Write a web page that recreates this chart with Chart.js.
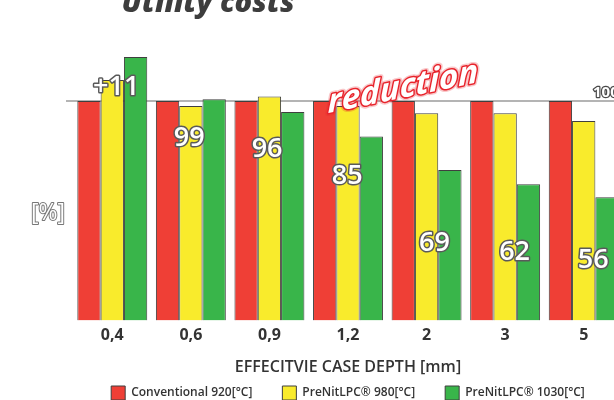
<!DOCTYPE html>
<html>
<head>
<meta charset="utf-8">
<script src="https://cdn.jsdelivr.net/npm/chart.js@4"></script>
<style>
  html, body { margin: 0; padding: 0; background: #fff; overflow: hidden; }
  #wrap { position: relative; width: 630px; height: 410px; }
</style>
</head>
<body>
<div id="wrap"><canvas id="myChart" width="630" height="410"></canvas></div>
<script>
// case depth categories
const depths = ["0,4", "0,6", "0,9", "1,2", "2", "3", "5"];
// utility costs in % (conventional = 100)
const conventional920 = [100, 100, 100, 100, 100, 100, 100];
const preNit980 = [109.5, 97.7, 102, 97.7, 94.4, 94.4, 90.9];
const preNit1030 = [120, 100.8, 94.9, 83.8, 68.6, 62.1, 56.2];
const seriesNames = ["Conventional 920[°C]", "PreNitLPC® 980[°C]", "PreNitLPC® 1030[°C]"];

// numbers written over the bars, placed in axis units (category index, %)
const noteText = ["+11", "99", "96", "85", "69", "62", "56"];
const noteX = [0.05, -0.02, -0.03, -0.01, 0.1, 0.12, 0.12];
const noteY = [106, 83, 78, 65.6, 35.4, 31, 27.6];

const refLevel = 100;

function outlined(ctx, text, x, y, fill, stroke, lw) {
  ctx.lineJoin = "round";
  ctx.strokeStyle = stroke;
  ctx.lineWidth = lw;
  ctx.strokeText(text, x, y);
  ctx.fillStyle = fill;
  ctx.fillText(text, x, y);
}

// line at 100 % under the bars, texts on top
const decorations = {
  id: "decorations",
  beforeDatasetsDraw(chart) {
    const ctx = chart.ctx;
    const y = chart.scales.y.getPixelForValue(refLevel);
    ctx.save();
    ctx.strokeStyle = "#9b9b9b";
    ctx.lineWidth = 1.5;
    ctx.beginPath();
    ctx.moveTo(chart.chartArea.left - 7, y);
    ctx.lineTo(chart.width, y);
    ctx.stroke();
    ctx.restore();
  },
  afterDatasetsDraw(chart) {
    const ctx = chart.ctx;
    const xs = chart.scales.x;
    const ys = chart.scales.y;
    ctx.save();

    // title (cut by the top edge in the original)
    ctx.font = "italic 800 29px 'Open Sans'";
    ctx.textAlign = "center";
    ctx.textBaseline = "alphabetic";
    ctx.fillStyle = "#3d3d3d";
    ctx.fillText("Utility costs", 208, 12);

    // values over bars
    ctx.font = "600 27px 'Open Sans'";
    ctx.textBaseline = "middle";
    noteText.forEach((t, i) => {
      const x = xs.getPixelForValue(i + noteX[i]);
      const y = ys.getPixelForValue(noteY[i]);
      outlined(ctx, t, x, y, "#ffffff", "#5a5a5a", 3);
    });

    // 100 mark on the right
    ctx.font = "bold 15px 'Open Sans'";
    ctx.textAlign = "left";
    ctx.textBaseline = "alphabetic";
    outlined(ctx, "100", 593, ys.getPixelForValue(refLevel) - 4, "#ffffff", "#4a4a4a", 2.5);

    // [%]
    ctx.font = "23px 'Open Sans'";
    ctx.textAlign = "center";
    ctx.textBaseline = "middle";
    outlined(ctx, "[%]", chart.chartArea.left - 25, ys.getPixelForValue(49), "#ffffff", "#777777", 2);

    // reduction: sloped baseline, slightly slanted letters
    ctx.transform(1, -0.205, 0, 1, xs.getPixelForValue(3.7), ys.getPixelForValue(101.5));
    ctx.font = "italic bold 33px 'Open Sans'";
    ctx.textAlign = "center";
    ctx.textBaseline = "alphabetic";
    ctx.lineJoin = "round";
    ctx.strokeStyle = "rgba(232,36,44,0.25)";
    ctx.lineWidth = 6;
    ctx.strokeText("reduction", 0, 0);
    ctx.strokeStyle = "#e8242c";
    ctx.lineWidth = 3;
    ctx.strokeText("reduction", 0, 0);
    ctx.fillStyle = "#ffffff";
    ctx.fillText("reduction", 0, 0);
    ctx.restore();
  }
};

new Chart("myChart", {
  type: "bar",
  data: {
    labels: depths,
    datasets: [
      {
        label: seriesNames[0],
        data: conventional920,
        backgroundColor: "#ef3f36",
        borderColor: "#3f3f3f",
        borderWidth: 1,
      },
      {
        label: seriesNames[1],
        data: preNit980,
        backgroundColor: "#f9eb2c",
        borderColor: "#3f3f3f",
        borderWidth: 1,
      },
      {
        label: seriesNames[2],
        data: preNit1030,
        backgroundColor: "#39b54a",
        borderColor: "#3f3f3f",
        borderWidth: 1,
      },
    ],
  },
  options: {
    responsive: false,
    animation: false,
    categoryPercentage: 0.89,
    barPercentage: 1,
    layout: { padding: { left: 73, right: 7, top: 46, bottom: 0 } },
    plugins: {
      legend: {
        position: "bottom",
        labels: {
          boxWidth: 14,
          boxHeight: 14,
          padding: 30,
          color: "#333",
          font: { family: "'Open Sans'", size: 12, weight: "600" },
        },
      },
      tooltip: { enabled: false },
    },
    scales: {
      x: {
        grid: { display: false, drawTicks: false },
        border: { display: false },
        ticks: {
          color: "#333",
          padding: 5,
          font: { family: "'Open Sans'", size: 16, weight: "bold" },
        },
        title: {
          display: true,
          text: "EFFECITVIE CASE DEPTH [mm]",
          color: "#333",
          padding: { top: 8, bottom: -21 },
          font: { family: "'Open Sans'", size: 16, weight: "600" },
        },
      },
      y: {
        display: false,
        min: 0,
        max: 125,
      },
    },
  },
  plugins: [decorations],
});
</script>
</body>
</html>
